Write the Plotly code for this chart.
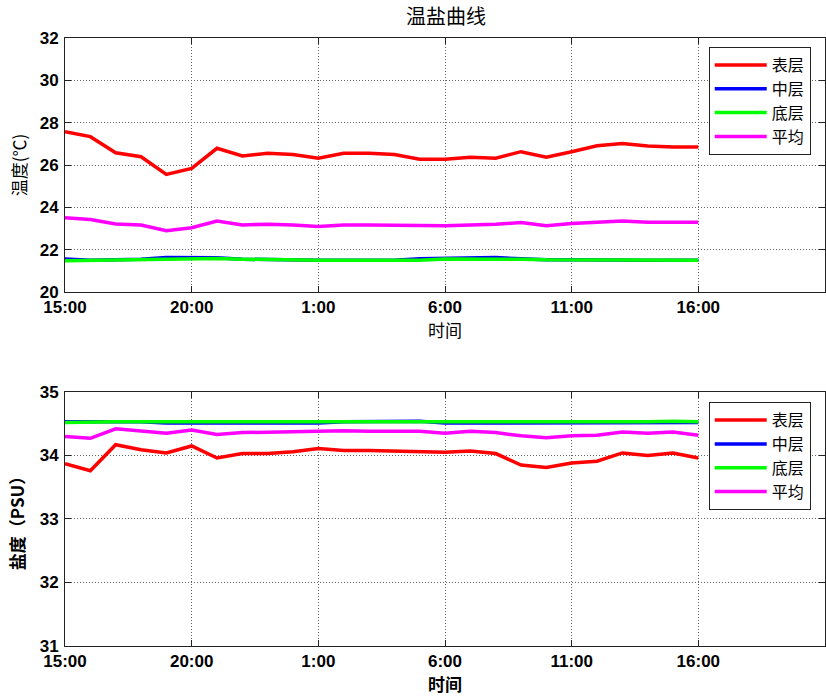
import plotly.graph_objects as go
from plotly.subplots import make_subplots

hours = list(range(26))
tick_vals = [0, 5, 10, 15, 20, 25]
tick_text = ["15:00", "20:00", "1:00", "6:00", "11:00", "16:00"]
series_names = ["表层", "中层", "底层", "平均"]
colors = ["#ff0000", "#0000ff", "#00ff00", "#ff00ff"]

temp_surface = [27.57, 27.34, 26.58, 26.39, 25.56, 25.84, 26.79, 26.43, 26.55, 26.50,
                26.32, 26.55, 26.55, 26.50, 26.27, 26.27, 26.37, 26.32, 26.63, 26.37,
                26.63, 26.91, 27.02, 26.90, 26.85, 26.85]
temp_middle = [21.56, 21.50, 21.52, 21.55, 21.63, 21.63, 21.62, 21.55, 21.52, 21.50,
               21.50, 21.50, 21.50, 21.50, 21.57, 21.59, 21.60, 21.63, 21.57, 21.52,
               21.52, 21.50, 21.50, 21.50, 21.50, 21.50]
temp_bottom = [21.48, 21.50, 21.52, 21.55, 21.58, 21.58, 21.58, 21.55, 21.52, 21.50,
               21.50, 21.50, 21.50, 21.50, 21.50, 21.56, 21.57, 21.57, 21.55, 21.52,
               21.52, 21.50, 21.50, 21.50, 21.50, 21.50]
temp_mean = [23.51, 23.43, 23.21, 23.17, 22.90, 23.04, 23.35, 23.17, 23.20, 23.17,
             23.09, 23.17, 23.17, 23.15, 23.13, 23.13, 23.17, 23.20, 23.28, 23.13,
             23.24, 23.32, 23.36, 23.30, 23.30, 23.30]

sal_surface = [33.87, 33.76, 34.17, 34.09, 34.04, 34.15, 33.96, 34.03, 34.03, 34.06,
               34.11, 34.08, 34.08, 34.07, 34.07, 34.05, 34.07, 34.03, 33.85, 33.81,
               33.88, 33.91, 34.04, 34.00, 34.04, 33.96]
sal_middle = [34.53, 34.53, 34.53, 34.53, 34.51, 34.51, 34.51, 34.51, 34.51, 34.51,
              34.51, 34.53, 34.53, 34.53, 34.54, 34.51, 34.51, 34.51, 34.51, 34.51,
              34.51, 34.52, 34.52, 34.51, 34.51, 34.52]
sal_bottom = [34.52, 34.53, 34.53, 34.53, 34.53, 34.52, 34.52, 34.53, 34.53, 34.53,
              34.52, 34.53, 34.53, 34.53, 34.52, 34.52, 34.53, 34.53, 34.53, 34.52,
              34.52, 34.52, 34.53, 34.53, 34.54, 34.53]
sal_mean = [34.30, 34.27, 34.42, 34.38, 34.35, 34.40, 34.33, 34.36, 34.37, 34.38,
            34.39, 34.39, 34.38, 34.38, 34.38, 34.35, 34.38, 34.36, 34.31, 34.28,
            34.31, 34.32, 34.37, 34.35, 34.37, 34.32]

temp_series = [temp_surface, temp_middle, temp_bottom, temp_mean]
sal_series = [sal_surface, sal_middle, sal_bottom, sal_mean]

fig = make_subplots(rows=2, cols=1, vertical_spacing=0.1644)

for name, col, vals in zip(series_names, colors, temp_series):
    fig.add_trace(go.Scatter(x=hours, y=vals, mode="lines", name=name,
                             line=dict(color=col, width=3.5), legend="legend"),
                  row=1, col=1)
for name, col, vals in zip(series_names, colors, sal_series):
    fig.add_trace(go.Scatter(x=hours, y=vals, mode="lines", name=name,
                             line=dict(color=col, width=3.5), legend="legend2"),
                  row=2, col=1)

cjk = "Noto Sans CJK SC"
tickfont = dict(family="Liberation Sans, Arial", size=17, color="black", weight="bold")
axis_common = dict(showline=True, linecolor="#222222", linewidth=1, mirror="ticks",
                   ticks="inside", ticklen=6, tickcolor="#222222",
                   showgrid=True, gridcolor="#666666", griddash="1px,2px", gridwidth=1,
                   zeroline=False, tickfont=tickfont)

fig.update_xaxes(range=[0, 30], tickvals=tick_vals, ticktext=tick_text, **axis_common)
fig.update_yaxes(ticklabelstandoff=2, **axis_common)

legend_common = dict(xanchor="left", yanchor="top",
                     bgcolor="white", bordercolor="#222222", borderwidth=1,
                     font=dict(family=cjk, size=16, color="black"),
                     itemwidth=52, tracegroupgap=0)

fig.update_layout(
    width=826, height=697,
    margin=dict(l=65, r=1, t=38, b=51),
    paper_bgcolor="white", plot_bgcolor="white",
    title=dict(text="温盐曲线", x=0.54, xanchor="center", y=0.975, yanchor="middle",
               font=dict(family=cjk, size=20, color="black")),
    xaxis=dict(domain=[0, 1], title=dict(text="时间", standoff=6,
               font=dict(family=cjk, size=17, color="black"))),
    yaxis=dict(domain=[0.5822, 1], range=[20, 32], tickvals=[20, 22, 24, 26, 28, 30, 32],
               title=dict(text="温度(℃)", standoff=8,
                          font=dict(family=cjk, size=17, color="black"))),
    xaxis2=dict(domain=[0, 1], title=dict(text="<b>时间</b>", standoff=6,
                font=dict(family=cjk, size=17, color="black"))),
    yaxis2=dict(domain=[0, 0.4178], range=[31, 35], tickvals=[31, 32, 33, 34, 35],
                title=dict(text="<b>盐度（PSU）</b>", standoff=10,
                           font=dict(family=cjk, size=17, color="black"))),
    legend=dict(x=0.847, y=0.985, **legend_common),
    legend2=dict(x=0.847, y=0.401, **legend_common),
)

fig.write_html("out.html")
